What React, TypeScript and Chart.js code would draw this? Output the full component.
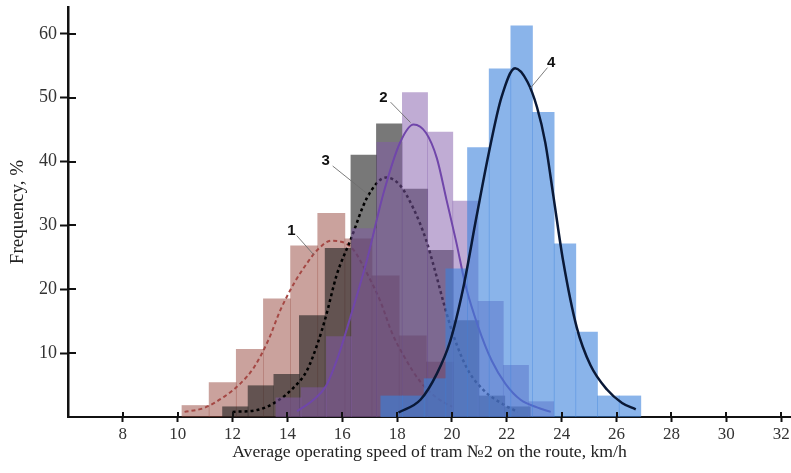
import React, { useEffect, useRef } from 'react';
import { Chart, registerables } from 'chart.js';

Chart.register(...registerables);

// ---- axis ranges and ticks ----
const X_MIN = 6;
const X_MAX = 32.36;
const Y_MAX = 64.2;
const xTicks = [8, 10, 12, 14, 16, 18, 20, 22, 24, 26, 28, 30, 32];
const yTicks = [10, 20, 30, 40, 50, 60];

const xTitle = 'Average operating speed of tram №2 on the route, km/h';
const yTitle = 'Frequency, %';

// ---- histogram 1 (rosy) ----
const hist1Centers = [10.65, 11.64, 12.63, 13.62, 14.61, 15.6, 16.59, 17.58, 18.57, 19.56];
const hist1Values = [1.8, 5.4, 10.6, 18.5, 26.8, 31.9, 27.9, 22.1, 12.7, 8.6];

// ---- histogram 3 (grey) ----
const hist3Centers = [12.1, 13.03, 13.97, 14.9, 15.84, 16.78, 17.71, 18.65, 19.58, 20.52, 21.46, 22.39];
const hist3Values = [1.6, 4.9, 6.7, 15.9, 26.4, 41.0, 45.9, 35.7, 26.1, 15.1, 3.3, 1.6];

// ---- histogram 2 (purple) ----
const hist2Centers = [14.04, 14.96, 15.88, 16.8, 17.72, 18.65, 19.57, 20.49, 21.41, 22.33, 23.25];
const hist2Values = [3.0, 4.6, 12.6, 29.5, 43.0, 50.8, 44.6, 33.8, 18.1, 8.1, 2.4];

// ---- histogram 4 (blue) ----
const hist4Centers = [17.8, 18.59, 19.38, 20.17, 20.96, 21.75, 22.54, 23.33, 24.12, 24.91, 25.7, 26.49];
const hist4Values = [3.3, 3.3, 6.0, 23.2, 42.2, 54.5, 61.25, 47.7, 27.1, 13.3, 3.3, 3.3];

// ---- fitted curves ----
const curve1X = [10.25, 10.95, 11.7, 12.3, 12.8, 13.3, 13.75, 14.25, 14.75, 15.1, 15.6, 16.0, 16.4, 16.9, 17.4, 17.8, 18.25, 18.85, 19.45, 20.0];
const curve1Y = [0.8, 1.4, 3.2, 5.3, 7.9, 12.0, 16.8, 21.0, 24.3, 26.2, 27.6, 27.4, 26.2, 22.5, 18.0, 13.3, 9.5, 5.5, 3.0, 1.6];

const curve3X = [12.0, 12.9, 13.6, 14.2, 14.7, 15.1, 15.4, 15.8, 16.3, 16.9, 17.6, 18.1, 18.6, 19.05, 19.35, 19.7, 20.05, 20.55, 21.15, 21.9, 22.4];
const curve3Y = [0.8, 1.1, 2.4, 4.5, 7.2, 11.5, 15.7, 22.3, 27.7, 34.3, 37.5, 36.3, 32.6, 27.8, 23.4, 17.8, 12.8, 7.6, 4.2, 1.9, 0.8];

const curve2X = [14.35, 14.95, 15.4, 15.85, 16.3, 16.9, 17.5, 18.1, 18.6, 19.05, 19.45, 19.8, 20.15, 20.5, 20.95, 21.45, 21.95, 22.5, 23.1, 23.6];
const curve2Y = [0.9, 2.7, 4.8, 9.5, 15.7, 24.6, 35.0, 42.9, 45.8, 44.5, 40.5, 34.0, 27.5, 20.5, 14.2, 8.8, 5.2, 2.7, 1.5, 0.8];

const curve4X = [18.05, 18.85, 19.45, 19.93, 20.4, 20.9, 21.35, 21.8, 22.3, 22.75, 23.1, 23.4, 23.7, 24.05, 24.55, 25.05, 25.65, 26.2, 26.7];
const curve4Y = [0.7, 2.7, 6.8, 11.8, 20.0, 31.5, 41.5, 50.0, 54.6, 52.5, 48.5, 43.0, 34.5, 24.5, 14.0, 8.1, 4.3, 2.2, 1.2];

// ---- curve labels with leader lines (data coordinates) ----
const labelTexts = ['1', '2', '3', '4'];
const labelX = [14.15, 17.5, 15.39, 23.62];
const labelY = [29.1, 50.0, 40.1, 55.5];
const leaderX1 = [14.34, 17.76, 15.65, 23.48];
const leaderY1 = [28.4, 49.3, 39.3, 54.7];
const leaderX2 = [14.96, 18.49, 16.96, 22.86];
const leaderY2 = [25.4, 46.1, 34.8, 51.5];

const SERIF = "'Liberation Serif', 'Times New Roman', serif";

const pts = (xs: number[], ys: number[]) => xs.map((x, i) => ({ x, y: ys[i] }));

const hiddenAxis = () => ({
  type: 'linear' as const,
  display: false,
  min: X_MIN,
  max: X_MAX,
  offset: false,
  grid: { offset: false },
  afterBuildTicks: (s: any) => {
    s.ticks = [];
  },
});

const extrasPlugin = {
  id: 'extras',
  afterDraw(chart: any) {
    const { ctx, chartArea } = chart;
    const xs = chart.scales.x;
    const ys = chart.scales.y;
    ctx.save();
    ctx.strokeStyle = '#111';
    ctx.lineWidth = 2;
    ctx.beginPath();
    xTicks.forEach((v) => {
      const px = Math.round(xs.getPixelForValue(v));
      ctx.moveTo(px, chartArea.bottom);
      ctx.lineTo(px, chartArea.bottom - 5);
    });
    yTicks.forEach((v) => {
      const py = Math.round(ys.getPixelForValue(v));
      ctx.moveTo(chartArea.left, py);
      ctx.lineTo(chartArea.left + 8, py);
    });
    ctx.stroke();
    ctx.strokeStyle = 'rgba(110,110,110,0.9)';
    ctx.lineWidth = 1;
    ctx.beginPath();
    labelTexts.forEach((_, i) => {
      ctx.moveTo(xs.getPixelForValue(leaderX1[i]), ys.getPixelForValue(leaderY1[i]));
      ctx.lineTo(xs.getPixelForValue(leaderX2[i]), ys.getPixelForValue(leaderY2[i]));
    });
    ctx.stroke();
    ctx.fillStyle = '#111';
    ctx.font = "bold 15px 'Liberation Sans', Arial, sans-serif";
    ctx.textAlign = 'center';
    ctx.textBaseline = 'middle';
    labelTexts.forEach((t, i) => {
      ctx.fillText(t, xs.getPixelForValue(labelX[i]), ys.getPixelForValue(labelY[i]));
    });
    ctx.restore();
  },
};

export default function App() {
  const canvasRef = useRef<HTMLCanvasElement | null>(null);

  useEffect(() => {
    document.body.style.margin = '0';
    const canvas = canvasRef.current;
    if (!canvas) return;

    const barCommon = {
      type: 'bar' as const,
      yAxisID: 'y',
      borderWidth: 0,
      barPercentage: 1,
      categoryPercentage: 1,
      grouped: false,
    };
    const lineCommon = {
      type: 'line' as const,
      xAxisID: 'x',
      yAxisID: 'y',
      pointRadius: 0,
      fill: false,
      cubicInterpolationMode: 'monotone' as const,
    };

    const chart = new Chart(canvas, {
      type: 'bar',
      data: {
        datasets: [
          {
            ...barCommon,
            label: 'hist1',
            data: pts(hist1Centers, hist1Values),
            xAxisID: 'x1',
            backgroundColor: 'rgba(150,70,60,0.5)',
            order: 8,
          },
          {
            ...lineCommon,
            label: 'curve1',
            data: pts(curve1X, curve1Y),
            borderColor: 'rgb(165,72,68)',
            borderWidth: 2,
            borderDash: [4, 3],
            order: 7,
          },
          {
            ...barCommon,
            label: 'hist3',
            data: pts(hist3Centers, hist3Values),
            xAxisID: 'x3',
            backgroundColor: 'rgba(30,30,30,0.6)',
            order: 6,
          },
          {
            ...lineCommon,
            label: 'curve3',
            data: pts(curve3X, curve3Y),
            borderColor: '#000',
            borderWidth: 2.5,
            borderDash: [3, 3],
            order: 5,
          },
          {
            ...barCommon,
            label: 'hist2',
            data: pts(hist2Centers, hist2Values),
            xAxisID: 'x2',
            backgroundColor: 'rgba(130,90,170,0.5)',
            order: 4,
          },
          {
            ...lineCommon,
            label: 'curve2',
            data: pts(curve2X, curve2Y),
            borderColor: 'rgb(112,70,170)',
            borderWidth: 2,
            order: 3,
          },
          {
            ...barCommon,
            label: 'hist4',
            data: pts(hist4Centers, hist4Values),
            xAxisID: 'x4',
            backgroundColor: 'rgba(60,130,220,0.6)',
            order: 2,
          },
          {
            ...lineCommon,
            label: 'curve4',
            data: pts(curve4X, curve4Y),
            borderColor: 'rgb(10,25,55)',
            borderWidth: 2.5,
            order: 1,
          },
        ] as any,
      },
      options: {
        animation: false,
        responsive: true,
        maintainAspectRatio: false,
        layout: { padding: { top: 7, left: 0, right: 0, bottom: 0 } },
        plugins: {
          legend: { display: false },
          tooltip: { enabled: false },
        },
        scales: {
          x: {
            type: 'linear',
            position: 'bottom',
            min: X_MIN,
            max: X_MAX,
            offset: false,
            z: 1,
            afterBuildTicks: (s: any) => {
              s.ticks = xTicks.map((v) => ({ value: v }));
            },
            afterFit: (s: any) => {
              s.height = 56;
              s.paddingLeft = 0;
              s.paddingRight = 0;
            },
            grid: {
              offset: false,
              drawOnChartArea: false,
              drawTicks: true,
              tickLength: 5,
              tickWidth: 2,
              tickColor: '#111',
            },
            border: { display: true, color: '#111', width: 2 },
            ticks: {
              color: '#333',
              padding: 2,
              maxRotation: 0,
              autoSkip: false,
              font: { family: SERIF, size: 17 },
            },
            title: {
              display: true,
              text: xTitle,
              color: '#222',
              font: { family: SERIF, size: 17.7 },
              padding: { top: 0, bottom: 10 },
            },
          },
          x1: hiddenAxis(),
          x2: hiddenAxis(),
          x3: hiddenAxis(),
          x4: hiddenAxis(),
          y: {
            type: 'linear',
            position: 'left',
            min: 0,
            max: Y_MAX,
            z: 1,
            afterBuildTicks: (s: any) => {
              s.ticks = yTicks.map((v) => ({ value: v }));
            },
            afterFit: (s: any) => {
              s.width = 68;
              s.paddingTop = 0;
              s.paddingBottom = 0;
            },
            grid: {
              drawOnChartArea: false,
              drawTicks: true,
              tickLength: 8,
              tickWidth: 2,
              tickColor: '#111',
            },
            border: { display: true, color: '#111', width: 2.5 },
            ticks: {
              color: '#333',
              padding: 3,
              font: { family: SERIF, size: 18 },
            },
            title: {
              display: true,
              text: yTitle,
              color: '#222',
              font: { family: SERIF, size: 19 },
              padding: { top: 7, bottom: 0 },
            },
          },
        },
      } as any,
      plugins: [extrasPlugin],
    });

    return () => {
      chart.destroy();
    };
  }, []);

  return (
    <div style={{ position: 'relative', width: 791, height: 473 }}>
      <canvas ref={canvasRef} />
    </div>
  );
}
